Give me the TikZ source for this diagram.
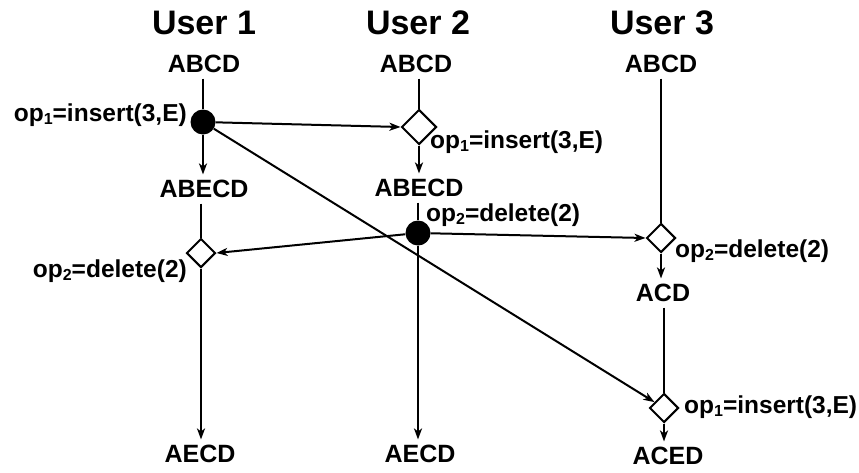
\documentclass[tikz,border=0pt]{standalone}
\usepackage{fontspec}
\setmainfont{Liberation Sans}
\usetikzlibrary{shapes.geometric,arrows.meta}
\newcommand{\sub}[1]{\raisebox{-0.3ex}{\fontsize{16}{16}\selectfont #1}}
\begin{document}
\begin{tikzpicture}[x=1pt,y=-1pt,
  title/.style={font=\fontsize{34}{38}\selectfont\bfseries,inner sep=0pt,anchor=base},
  state/.style={font=\fontsize{25}{29}\selectfont\bfseries,inner xsep=0pt,inner ysep=5.5pt},
  oplabel/.style={font=\fontsize{24.5}{28}\selectfont\bfseries,inner sep=0pt},
  dia/.style={diamond,draw,line width=2pt,fill=white,inner sep=0pt,minimum size=29pt},
  dot/.style={circle,fill=black,inner sep=0pt,minimum size=25pt},
  conn/.style={line width=2pt},
  arr/.style={line width=2pt,-{Stealth[length=11pt,width=8pt,inset=3pt]}}]
\useasboundingbox (0,0) rectangle (859,472);
% titles
\node[title] (t1) at (204,34) {User 1};
\node[title] (t2) at (418,34) {User 2};
\node[title] (t3) at (662,34) {User 3};
% user 1
\node[state] (a1) at (204,64) {ABCD};
\node[dot] (p1) at (203,122) {};
\node[state] (b1) at (204,189) {ABECD};
\node[dia] (d1) at (201,253) {};
\node[state] (c1) at (200,454) {AECD};
% user 2
\node[state] (a2) at (416,64) {ABCD};
\node[dia,minimum size=35pt] (d2) at (419,127) {};
\node[state] (b2) at (419,188) {ABECD};
\node[dot] (p2) at (418,233) {};
\node[state] (c2) at (420,454) {AECD};
% user 3
\node[state] (a3) at (661,64) {ABCD};
\node[dia] (d3) at (661,238) {};
\node[state] (b3) at (663,293) {ACD};
\node[dia] (d4) at (664,408) {};
\node[state] (c3) at (668,456) {ACED};
% labels
\node[oplabel,anchor=base east] (l1) at (187,121) {op\sub{1}=insert(3,E)};
\node[oplabel,anchor=base west] (l2) at (430,148) {op\sub{1}=insert(3,E)};
\node[oplabel,anchor=base west] (l3) at (426,221) {op\sub{2}=delete(2)};
\node[oplabel,anchor=base east] (l4) at (187,277) {op\sub{2}=delete(2)};
\node[oplabel,anchor=base west] (l5) at (675,257) {op\sub{2}=delete(2)};
\node[oplabel,anchor=base west] (l6) at (684,413) {op\sub{1}=insert(3,E)};
% vertical connectors
\draw[conn] (a1.south -| p1) -- (p1);
\draw[arr] (p1) -- (b1.north -| p1);
\draw[conn] (b1.south -| d1.north) -- (d1.north);
\draw[arr] (d1.south) -- (c1.north -| d1.south);
\draw[conn] (a2.south -| d2.north) -- (d2.north);
\draw[arr] (d2.south) -- (b2.north -| d2.south);
\draw[conn] (b2.south -| p2) -- (p2);
\draw[arr] (p2) -- (c2.north -| p2);
\draw[conn] (a3.south -| d3.north) -- (d3.north);
\draw[arr] (d3.south) -- (b3.north -| d3.south);
\draw[conn] (b3.south -| d4.north) -- (d4.north);
\draw[arr] (d4.south) -- (c3.north -| d4.south);
% cross connectors
\draw[arr] (p1) -- (d2.west);
\draw[arr] (p1) -- (d4);
\draw[arr] (p2) -- (d1.east);
\draw[arr] (p2) -- (d3.west);
\end{tikzpicture}
\end{document}
